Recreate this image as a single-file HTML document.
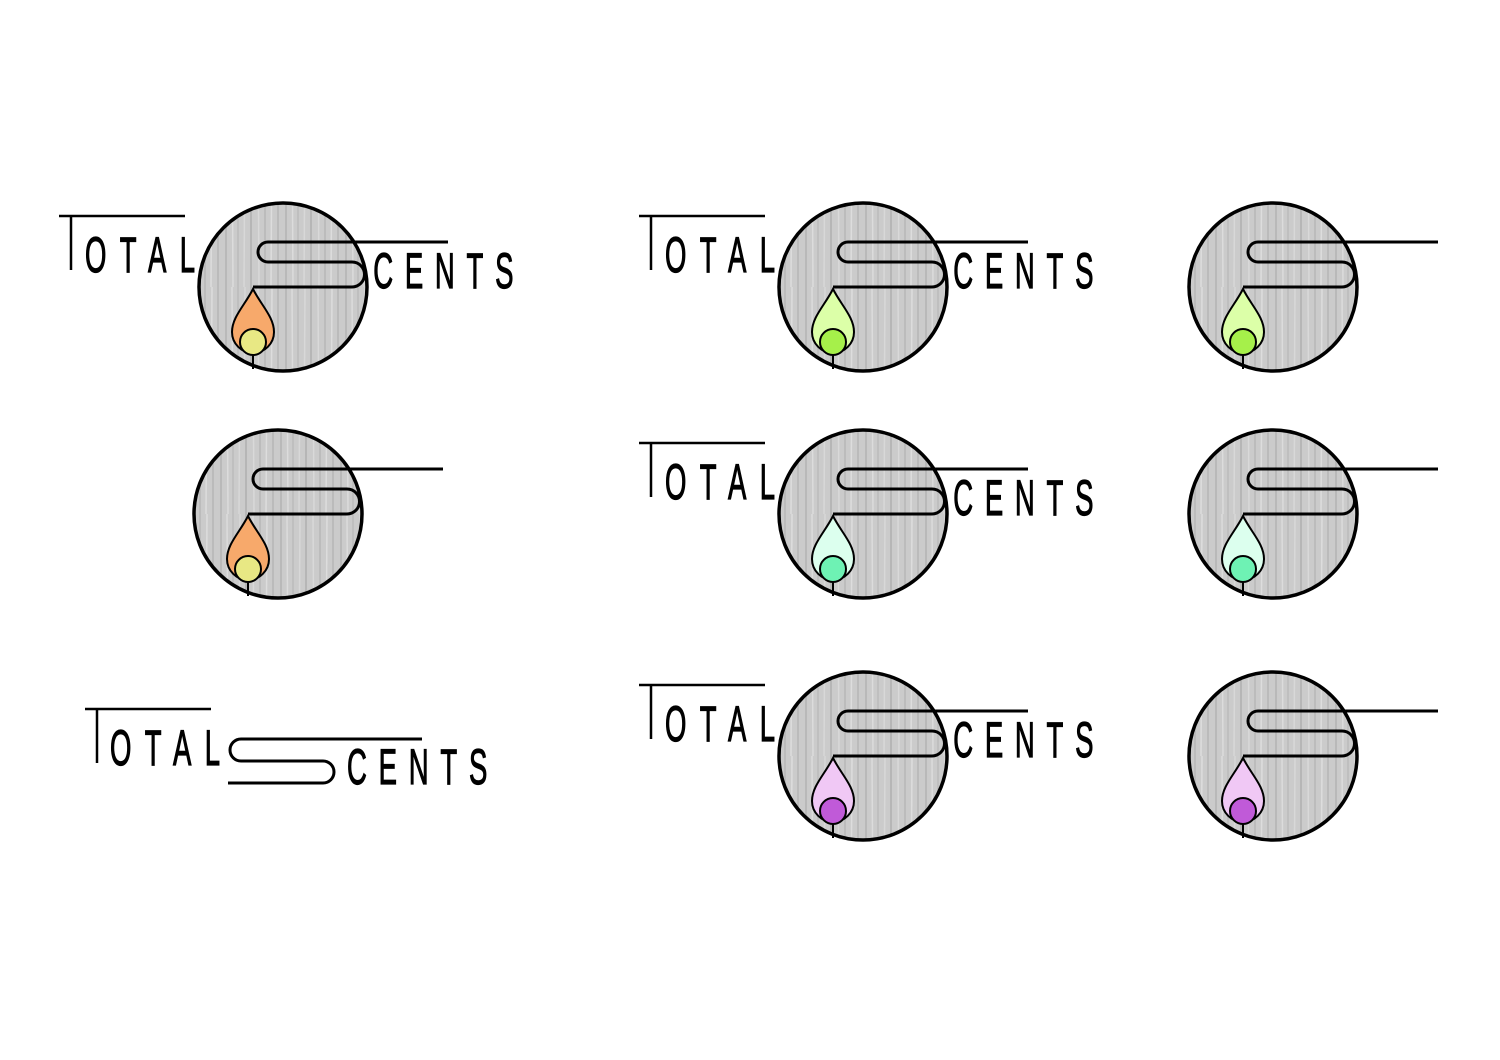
<!DOCTYPE html>
<html><head><meta charset="utf-8"><style>html,body{margin:0;padding:0;background:#fff}svg{display:block}</style></head>
<body>
<svg width="1500" height="1060" viewBox="0 0 1500 1060" xmlns="http://www.w3.org/2000/svg">
<defs>
<pattern id="wood" width="60" height="170" patternUnits="userSpaceOnUse">
<rect width="60" height="170" fill="#cbcbcb"/>
<g stroke-width="1.5" fill="none">
<line x1="3" y1="0" x2="3" y2="170" stroke="#b3b3b3"/>
<line x1="9" y1="0" x2="10" y2="170" stroke="#dcdcdc"/>
<line x1="15" y1="0" x2="15" y2="170" stroke="#bbbbbb"/>
<line x1="22" y1="0" x2="21" y2="170" stroke="#d8d8d8"/>
<line x1="28" y1="0" x2="28" y2="170" stroke="#b0b0b0"/>
<line x1="35" y1="0" x2="36" y2="170" stroke="#d9d9d9"/>
<line x1="42" y1="0" x2="42" y2="170" stroke="#b8b8b8"/>
<line x1="49" y1="0" x2="48" y2="170" stroke="#dddddd"/>
<line x1="55" y1="0" x2="55" y2="170" stroke="#b6b6b6"/>
</g>
</pattern>
<g id="mark">
<circle cx="0" cy="0" r="84" fill="url(#wood)" stroke="#000" stroke-width="3.5"/>
<path d="M165,-45 H-15 A10,10 0 0 0 -15,-25 H69 A12.5,12.5 0 0 1 69,0 H-30" fill="none" stroke="#000" stroke-width="3"/>
<line x1="-30" y1="66" x2="-30" y2="82" stroke="#000" stroke-width="2"/>
</g>
<g id="tsline">
<line x1="-224" y1="-71" x2="-98" y2="-71" stroke="#000" stroke-width="2.5"/>
<line x1="-212" y1="-71" x2="-212" y2="-17" stroke="#000" stroke-width="2.5"/>
</g>
</defs>

<g font-family="'Liberation Sans',sans-serif" font-size="50" fill="#000" stroke="#000" stroke-width="1.2">

<g transform="translate(283,287)">
<use href="#mark"/><use href="#tsline"/>
<path d="M-30,2 C-38,18 -51,30 -51,45 A21,21 0 0 0 -9,45 C-9,30 -22,18 -30,2 Z" fill="#f7a96b" stroke="#000" stroke-width="2"/>
<circle cx="-30" cy="55" r="13" fill="#e8e884" stroke="#000" stroke-width="2"/>
<g transform="scale(0.55,1)"><text x="-360" y="-15" textLength="200" lengthAdjust="spacing">OTAL</text>
<text x="164" y="1" textLength="255" lengthAdjust="spacing">CENTS</text></g>
</g>

<g transform="translate(278,514)">
<use href="#mark"/>
<path d="M-30,2 C-38,18 -51,30 -51,45 A21,21 0 0 0 -9,45 C-9,30 -22,18 -30,2 Z" fill="#f7a96b" stroke="#000" stroke-width="2"/>
<circle cx="-30" cy="55" r="13" fill="#e8e884" stroke="#000" stroke-width="2"/>
</g>

<g transform="translate(863,287)">
<use href="#mark"/><use href="#tsline"/>
<path d="M-30,2 C-38,18 -51,30 -51,45 A21,21 0 0 0 -9,45 C-9,30 -22,18 -30,2 Z" fill="#dcffa8" stroke="#000" stroke-width="2"/>
<circle cx="-30" cy="55" r="13" fill="#a6f04a" stroke="#000" stroke-width="2"/>
<g transform="scale(0.55,1)"><text x="-360" y="-15" textLength="200" lengthAdjust="spacing">OTAL</text>
<text x="164" y="1" textLength="255" lengthAdjust="spacing">CENTS</text></g>
</g>
<g transform="translate(1273,287)">
<use href="#mark"/>
<path d="M-30,2 C-38,18 -51,30 -51,45 A21,21 0 0 0 -9,45 C-9,30 -22,18 -30,2 Z" fill="#dcffa8" stroke="#000" stroke-width="2"/>
<circle cx="-30" cy="55" r="13" fill="#a6f04a" stroke="#000" stroke-width="2"/>
</g>

<g transform="translate(863,514)">
<use href="#mark"/><use href="#tsline"/>
<path d="M-30,2 C-38,18 -51,30 -51,45 A21,21 0 0 0 -9,45 C-9,30 -22,18 -30,2 Z" fill="#dcffee" stroke="#000" stroke-width="2"/>
<circle cx="-30" cy="55" r="13" fill="#6ef2b4" stroke="#000" stroke-width="2"/>
<g transform="scale(0.55,1)"><text x="-360" y="-15" textLength="200" lengthAdjust="spacing">OTAL</text>
<text x="164" y="1" textLength="255" lengthAdjust="spacing">CENTS</text></g>
</g>
<g transform="translate(1273,514)">
<use href="#mark"/>
<path d="M-30,2 C-38,18 -51,30 -51,45 A21,21 0 0 0 -9,45 C-9,30 -22,18 -30,2 Z" fill="#dcffee" stroke="#000" stroke-width="2"/>
<circle cx="-30" cy="55" r="13" fill="#6ef2b4" stroke="#000" stroke-width="2"/>
</g>

<g transform="translate(863,756)">
<use href="#mark"/><use href="#tsline"/>
<path d="M-30,2 C-38,18 -51,30 -51,45 A21,21 0 0 0 -9,45 C-9,30 -22,18 -30,2 Z" fill="#f0c8f5" stroke="#000" stroke-width="2"/>
<circle cx="-30" cy="55" r="13" fill="#c05ad8" stroke="#000" stroke-width="2"/>
<g transform="scale(0.55,1)"><text x="-360" y="-15" textLength="200" lengthAdjust="spacing">OTAL</text>
<text x="164" y="1" textLength="255" lengthAdjust="spacing">CENTS</text></g>
</g>
<g transform="translate(1273,756)">
<use href="#mark"/>
<path d="M-30,2 C-38,18 -51,30 -51,45 A21,21 0 0 0 -9,45 C-9,30 -22,18 -30,2 Z" fill="#f0c8f5" stroke="#000" stroke-width="2"/>
<circle cx="-30" cy="55" r="13" fill="#c05ad8" stroke="#000" stroke-width="2"/>
</g>

<line x1="85" y1="709" x2="211" y2="709" stroke="#000" stroke-width="2.5"/>
<line x1="97" y1="709" x2="97" y2="763" stroke="#000" stroke-width="2.5"/>
<g transform="scale(0.55,1)">
<text x="200" y="765" textLength="200" lengthAdjust="spacing">OTAL</text>
<text x="631" y="784" textLength="255" lengthAdjust="spacing">CENTS</text>
</g>
<path d="M422,739 H241 A11,11 0 0 0 241,761 H323 A11,11 0 0 1 323,783 H228" fill="none" stroke="#000" stroke-width="3"/>
</g>
</svg>
</body></html>
